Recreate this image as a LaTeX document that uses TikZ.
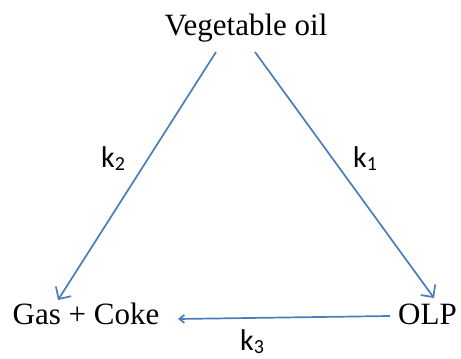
\documentclass[tikz,border=0pt]{standalone}
\usepackage{fontspec}
\setmainfont{Liberation Serif}
\newfontfamily\kfont{Carlito}
\usepackage{xcolor}
\usepackage{tikz}
\usetikzlibrary{arrows.meta,positioning,calc}
\definecolor{flowblue}{RGB}{74,126,187}
\newcommand{\rate}[1]{{\kfont\fontsize{30}{34}\selectfont k\raisebox{-3pt}{\fontsize{20}{22}\selectfont #1}}}
\begin{document}
\begin{tikzpicture}[x=1pt,y=1pt, >={Straight Barb[length=9pt,width=18pt]},
  every node/.style={font=\fontsize{31}{36}\selectfont,inner sep=0pt},
  flow/.style={->,draw=flowblue,line width=1.7pt}]
\useasboundingbox (0,0) rectangle (461,359);
\node (veg) [anchor=base] at (246,323) {Vegetable oil};
\node (gas) [anchor=base] at (86,34) {Gas + Coke};
\node (olp) [anchor=base] at (427.5,34) {OLP};
\draw[flow] ($(veg.base)+(-30,-16)$) -- ($(gas.base)+(-28,25)$);
\draw[flow] ($(veg.base)+(9,-16)$) -- ($(olp.base)+(6.5,27)$);
\draw[flow,-{Straight Barb[length=5pt,width=8pt]}] ($(olp.base)+(-37.5,9)$) -- ($(gas.base)+(92,6)$);
\node (k2) [anchor=base] at (113,191) {\rate{2}};
\node (k1) [anchor=base] at (365,191) {\rate{1}};
\node (k3) [anchor=base] at (252,8) {\rate{3}};
\end{tikzpicture}
\end{document}
